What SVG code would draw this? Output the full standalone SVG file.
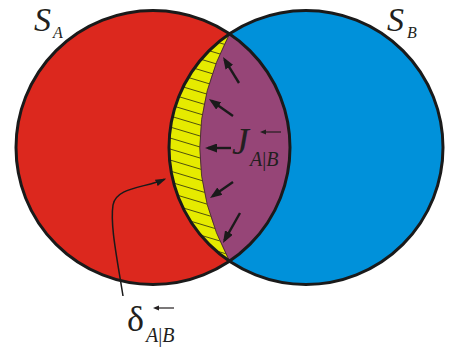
<svg xmlns="http://www.w3.org/2000/svg" width="450" height="352" viewBox="0 0 450 352">
  <style>
    .outline { fill: none; stroke: #1a1a1a; stroke-width: 3; }
    .it { font-family: "Liberation Serif", "Times New Roman", serif; font-style: italic; fill: #231f20; }
    .up { font-family: "Liberation Serif", "Times New Roman", serif; font-style: normal; fill: #231f20; }
    .flux { stroke: #1a1a1a; stroke-width: 2.4; fill: none; marker-end: url(#head); }
    .hatch { stroke: #2a2a10; stroke-width: 0.8; }
    .over { stroke: #231f20; stroke-width: 1.2; fill: none; }
  </style>
  <defs>
    <marker id="head" viewBox="0 0 12 9" refX="9" refY="4.5" markerWidth="12" markerHeight="9" markerUnits="userSpaceOnUse" orient="auto">
      <path d="M0,0 L12,4.5 L0,9 Z" fill="#1a1a1a"/>
    </marker>
    <marker id="head2" viewBox="0 0 11 7" refX="9" refY="3.5" markerWidth="11" markerHeight="7" markerUnits="userSpaceOnUse" orient="auto">
      <path d="M0,0 L11,3.5 L0,7 Z" fill="#1a1a1a"/>
    </marker>
    <clipPath id="crescent">
      <path d="M229.5,33.85 Q170,148 229.5,261.15 A137,137 0 0 1 229.5,33.85 Z"/>
    </clipPath>
  </defs>

  <g id="setA">
    <circle cx="153" cy="147.5" r="137" fill="#dc281e"/>
  </g>
  <g id="setB">
    <circle cx="306" cy="147.5" r="137" fill="#0091da"/>
  </g>
  <g id="overlap">
    <path d="M229.5,33.85 A137,137 0 0 1 229.5,261.15 A137,137 0 0 1 229.5,33.85 Z" fill="#964577"/>
    <path d="M229.5,33.85 Q170,148 229.5,261.15 A137,137 0 0 1 229.5,33.85 Z" fill="#e6eb00"/>
    <g clip-path="url(#crescent)" class="hatch">
      <path d="M160,3 L240,27 M160,14 L240,38 M160,25 L240,49 M160,36 L240,60 M160,47 L240,71 M160,58 L240,82 M160,69 L240,93 M160,80 L240,104 M160,91 L240,115 M160,102 L240,126 M160,113 L240,137 M160,124 L240,148 M160,135 L240,159 M160,146 L240,170 M160,157 L240,181 M160,168 L240,192 M160,179 L240,203 M160,190 L240,214 M160,201 L240,225 M160,212 L240,236 M160,223 L240,247 M160,234 L240,258 M160,245 L240,269 M160,256 L240,280"/>
    </g>
    <path d="M229.5,33.85 Q170,148 229.5,261.15" fill="none" stroke="#3a2a20" stroke-width="0.8"/>
  </g>
  <g id="outlines">
    <circle cx="153" cy="147.5" r="137" class="outline"/>
    <circle cx="306" cy="147.5" r="137" class="outline"/>
  </g>

  <g id="connectors">
    <line x1="239" y1="83" x2="224.6" y2="59.6" class="flux"/>
    <line x1="233" y1="116" x2="211.4" y2="100.7" class="flux"/>
    <line x1="231" y1="148" x2="208" y2="148" class="flux"/>
    <line x1="233" y1="182" x2="212.5" y2="196.3" class="flux"/>
    <line x1="240" y1="213" x2="224.5" y2="240.4" class="flux"/>
    <path d="M123,296 C117,258 110,225 113,205 C116,187 145,188 164.5,179.2" fill="none" stroke="#1a1a1a" stroke-width="1.5" marker-end="url(#head2)"/>
  </g>

  <g id="label-SA">
    <text x="34" y="31" class="it" font-size="34">S</text>
    <text x="53" y="38" class="it" font-size="16">A</text>
  </g>
  <g id="label-SB">
    <text x="387" y="31" class="it" font-size="34">S</text>
    <text x="407" y="38" class="it" font-size="16">B</text>
  </g>
  <g id="label-J">
    <text x="232" y="154" class="it" font-size="38">J</text>
    <text x="250" y="166" font-size="20"><tspan class="it">A</tspan><tspan class="up">|</tspan><tspan class="it">B</tspan></text>
    <path d="M281,132 L264,132" class="over"/>
    <path d="M260,132 L266,129.5 L266,134.5 Z" fill="#231f20"/>
  </g>
  <g id="label-delta">
    <text x="127" y="331" class="up" font-size="36">δ</text>
    <text x="146" y="342" font-size="20"><tspan class="it">A</tspan><tspan class="up">|</tspan><tspan class="it">B</tspan></text>
    <path d="M174,308 L157,308" class="over"/>
    <path d="M153,308 L159,305.5 L159,310.5 Z" fill="#231f20"/>
  </g>
</svg>
